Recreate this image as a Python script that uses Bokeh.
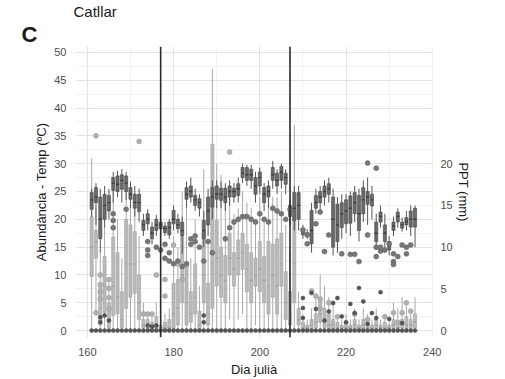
from bokeh.plotting import figure
from bokeh.models import Range1d, LinearAxis, FixedTicker, Span, Title, ColumnDataSource
from bokeh.embed import file_html
from bokeh.resources import INLINE

# ---------------- data ----------------
days = [161, 162, 163, 164, 165, 166, 167, 168, 169, 170, 171, 172, 173, 174, 175, 176, 177, 178, 179, 180,
        181, 182, 183, 184, 185, 186, 187, 188, 189, 190, 191, 192, 193, 194, 195, 196, 197, 198, 199, 200,
        201, 202, 203, 204, 205, 206, 207, 208, 209, 210, 211, 212, 213, 214, 215, 216, 217, 218, 219, 220,
        221, 222, 223, 224, 225, 226, 227, 228, 229, 230, 231, 232, 233, 234, 235, 236]

# Temperature (ºC) boxplot stats per day
temp_q1 = [21.8, 23.0, 16.5, 20.0, 21.5, 25.2, 25.0, 25.4, 25.0, 23.6, 22.0, 21.4, 18.0, 19.2, 16.5, 18.0, 18.3, 17.6, 17.2, 19.2,
           18.3, 17.0, 23.6, 24.0, 22.5, 22.0, 16.5, 19.0, 22.2, 23.6, 23.4, 23.0, 24.0, 24.0, 24.3, 27.5, 27.0, 27.0, 24.5, 26.0,
           23.0, 24.0, 27.0, 26.0, 27.0, 26.3, 20.5, 19.8, 20.0, 17.2, 17.0, 15.6, 22.0, 23.0, 24.0, 24.5, 15.0, 16.0, 18.5, 19.2,
           19.3, 21.0, 18.0, 21.0, 22.7, 22.4, 16.0, 19.5, 16.0, 14.5, 18.0, 19.5, 18.4, 19.0, 18.6, 18.6]
temp_med = [23.5, 24.0, 20.0, 22.5, 23.0, 26.5, 26.3, 27.0, 26.5, 24.5, 23.0, 23.0, 19.0, 20.0, 17.5, 19.0, 19.0, 18.3, 18.5, 20.0,
            19.0, 18.0, 24.5, 25.0, 23.5, 23.0, 18.0, 21.5, 24.0, 24.5, 24.5, 24.0, 25.0, 25.0, 25.5, 28.3, 28.0, 28.0, 26.0, 27.5,
            24.5, 25.0, 28.0, 27.0, 28.5, 27.5, 21.5, 22.0, 22.5, 17.8, 17.3, 18.0, 23.0, 24.0, 25.0, 25.5, 20.0, 19.0, 21.0, 21.5,
            22.0, 23.0, 21.0, 23.5, 24.0, 23.5, 17.5, 20.5, 17.5, 15.3, 18.8, 20.5, 19.0, 19.6, 20.0, 20.0]
temp_q3 = [24.8, 25.7, 24.0, 24.5, 24.3, 27.5, 27.8, 28.0, 27.8, 25.7, 24.5, 24.5, 19.8, 21.0, 18.6, 20.0, 19.5, 18.8, 19.5, 21.6,
           20.0, 19.5, 25.7, 26.0, 24.3, 23.7, 19.8, 24.0, 25.7, 26.0, 25.6, 25.6, 26.0, 25.6, 26.4, 29.3, 29.3, 29.0, 27.5, 28.5,
           25.7, 26.0, 29.3, 28.3, 29.5, 28.3, 22.5, 24.8, 24.8, 18.3, 17.6, 21.6, 24.3, 25.0, 26.0, 26.4, 24.0, 22.7, 23.0, 23.5,
           24.2, 24.8, 24.3, 25.7, 25.0, 24.5, 19.5, 21.3, 19.0, 16.0, 19.5, 21.3, 19.5, 20.3, 21.5, 22.0]
temp_lo = [20.4, 19.0, 14.0, 18.5, 20.0, 23.0, 24.0, 23.0, 23.5, 22.0, 20.5, 19.5, 17.0, 18.0, 15.5, 17.0, 17.5, 17.0, 16.5, 18.0,
           17.5, 13.8, 22.0, 23.0, 21.5, 20.5, 15.0, 17.0, 20.0, 22.0, 22.0, 21.5, 22.5, 23.0, 23.0, 26.5, 26.0, 25.5, 23.0, 24.5,
           21.5, 22.0, 25.5, 24.5, 25.5, 24.5, 19.0, 18.0, 18.0, 16.5, 16.5, 14.0, 21.0, 21.5, 22.5, 23.0, 13.5, 14.0, 16.5, 17.5,
           17.0, 19.5, 16.0, 19.5, 19.0, 20.0, 14.5, 18.5, 14.0, 13.5, 17.0, 18.5, 17.8, 18.0, 17.0, 15.0]
temp_hi = [25.5, 26.5, 25.5, 26.0, 25.5, 28.5, 28.7, 29.0, 28.5, 26.8, 26.0, 25.5, 21.0, 21.8, 19.5, 20.8, 20.2, 19.5, 20.0, 22.5,
           21.0, 20.5, 26.8, 27.5, 25.5, 24.5, 21.5, 25.5, 27.0, 27.0, 26.8, 26.5, 27.0, 26.5, 27.5, 30.0, 29.8, 29.8, 28.5, 29.3,
           26.5, 27.0, 30.5, 29.0, 30.0, 29.0, 23.5, 26.0, 26.0, 19.0, 18.2, 23.0, 25.5, 26.0, 27.0, 27.5, 25.5, 24.0, 24.5, 24.5,
           25.0, 26.0, 25.5, 27.0, 27.5, 26.0, 21.0, 22.5, 21.0, 17.0, 20.5, 22.0, 20.3, 21.5, 22.5, 22.5]

# Abundance boxplot stats per day
ab_q1 = [9.7, 13.0, 1.0, 3.2, 0.5, 2.7, 3.0, 0.5, 4.0, 6.0, 6.7, 2.0, 0.5, 0.0, 0.0, 0.3, 0.0, 0.0, 0.0, 0.0,
         1.0, 5.0, 1.0, 1.5, 3.0, 0.0, 5.0, 1.0, 4.0, 8.0, 6.0, 5.0, 10.0, 8.0, 10.0, 11.0, 7.0, 5.0, 8.0, 7.0,
         5.0, 3.0, 6.0, 3.0, 8.0, 2.0, 1.0, 5.0, 1.0, 0.0, 0.0, 0.0, 0.5, 1.5, 0.5, 0.3, 0.0, 0.0, 0.0, 0.0,
         0.0, 0.0, 0.0, 0.0, 0.0, 0.0, 0.0, 0.0, 0.0, 0.0, 0.3, 0.0, 0.5, 0.3, 0.0, 0.5]
ab_med = [15.0, 16.0, 4.0, 8.0, 2.0, 8.0, 6.0, 2.0, 12.0, 12.0, 12.0, 5.0, 1.0, 1.0, 0.5, 1.0, 0.5, 0.5, 0.5, 3.0,
          4.0, 10.0, 5.0, 3.0, 6.0, 1.0, 10.0, 3.0, 12.0, 13.0, 10.0, 9.0, 13.0, 11.0, 13.0, 14.0, 11.0, 9.0, 10.0, 11.0,
          9.0, 8.0, 10.0, 8.0, 12.0, 5.0, 3.0, 12.0, 2.0, 0.5, 0.5, 1.0, 1.5, 3.0, 2.0, 1.0, 1.0, 0.5, 0.5, 0.5,
          0.5, 1.0, 0.5, 1.0, 0.5, 0.5, 1.0, 0.5, 0.5, 0.5, 1.0, 0.5, 1.0, 1.0, 1.0, 1.5]
ab_q3 = [20.4, 18.0, 8.0, 13.3, 5.0, 16.8, 14.0, 7.0, 20.0, 19.0, 17.8, 10.0, 2.0, 2.0, 1.5, 2.5, 1.0, 1.5, 2.0, 8.5,
         9.2, 16.8, 12.0, 7.0, 12.0, 3.5, 17.5, 8.5, 33.5, 19.8, 15.0, 13.5, 17.5, 14.0, 16.3, 17.5, 15.5, 14.0, 13.0, 16.0,
         13.3, 16.0, 15.5, 16.5, 17.5, 10.6, 7.0, 21.6, 4.0, 1.5, 1.0, 2.0, 3.0, 6.0, 4.0, 3.0, 2.0, 1.5, 1.0, 1.5,
         1.0, 2.0, 1.0, 2.0, 1.5, 1.0, 2.0, 1.0, 1.5, 1.0, 2.0, 1.5, 2.0, 2.5, 2.0, 3.0]
ab_lo = [0, 3, 0, 0, 0, 0, 0, 0, 0, 0, 0, 0, 0, 0, 0, 0, 0, 0, 0, 0,
         0, 0, 0, 0, 0, 0, 0, 0, 0, 0, 0, 0, 2, 0, 2, 3, 0, 0, 1, 0,
         0, 0, 0, 0, 0, 0, 0, 0, 0, 0, 0, 0, 0, 0, 0, 0, 0, 0, 0, 0,
         0, 0, 0, 0, 0, 0, 0, 0, 0, 0, 0, 0, 0, 0, 0, 0]
ab_hi = [31.0, 22.0, 14.0, 19.0, 9.0, 25.0, 20.0, 13.0, 27.0, 25.0, 24.0, 17.0, 5.0, 3.0, 3.0, 5.0, 2.0, 3.0, 4.0, 17.0,
         15.0, 25.0, 22.0, 13.0, 20.0, 8.0, 29.0, 16.0, 47.0, 30.0, 28.0, 25.0, 24.0, 21.0, 22.0, 25.0, 23.0, 22.0, 20.0, 24.0,
         20.0, 24.0, 24.0, 24.0, 25.0, 19.0, 14.0, 37.0, 7.0, 3.0, 2.0, 4.0, 6.0, 10.0, 8.0, 6.0, 5.0, 3.0, 2.0, 3.0,
         2.0, 4.0, 2.0, 4.0, 3.0, 2.0, 4.0, 2.0, 3.0, 2.0, 5.0, 4.0, 6.0, 5.0, 4.0, 6.0]

# Abundance outliers
ab_out_day = [162, 172, 193, 163, 163, 163, 163, 162, 165, 165, 165, 165, 173, 174, 175, 176, 178, 178,
              180, 182, 181, 212, 213, 214, 214, 216, 231, 233, 234, 218, 222, 225, 229, 232, 235]
ab_out_val = [35.0, 34.0, 32.1, 10.0, 8.3, 7.0, 5.7, 3.2, 9.2, 7.6, 5.9, 3.9, 3.0, 3.0, 3.0, 10.0, 9.2, 6.2,
              15.4, 9.2, 12.0, 7.1, 6.2, 5.7, 4.0, 5.0, 3.2, 3.2, 5.0, 2.5, 3.0, 2.0, 2.5, 1.5, 3.5]

# Temperature outliers
t_out_day = [166, 166, 166, 169, 174, 174, 174, 176, 177, 178, 178, 179, 179, 180, 181, 182, 183, 184, 184, 185,
             185, 186, 187, 188, 189, 192, 193, 194, 195, 196, 197, 198, 199, 200, 201, 202, 203, 204, 205, 206,
             207, 210, 211, 211, 213, 214, 215, 216, 219, 221, 222, 223, 225, 227, 227, 228, 228, 229, 230, 231,
             231, 231, 232, 233, 234, 234, 235, 225, 227]
t_out_val = [21.0, 19.8, 18.5, 21.8, 16.0, 14.5, 13.5, 15.0, 14.5, 13.0, 15.5, 12.5, 14.0, 12.0, 12.5, 11.5, 12.0, 15.5, 16.5, 16.0,
             17.0, 15.0, 12.5, 16.0, 14.0, 16.5, 18.5, 19.5, 20.0, 20.5, 20.5, 20.0, 19.5, 21.0, 20.0, 19.5, 22.0, 21.5, 21.0, 20.0,
             21.8, 18.1, 17.2, 15.6, 19.2, 21.3, 14.2, 17.2, 13.8, 13.7, 13.7, 12.4, 17.2, 13.3, 15.0, 14.3, 15.0, 14.5, 15.6, 13.8,
             12.4, 11.9, 13.3, 15.4, 15.0, 13.8, 15.4, 30.1, 29.2]

# Precipitation (mm), secondary axis
ppt_day = days + [163, 163, 164, 165, 174, 175, 176, 187, 187, 210, 210, 210, 212, 213, 216, 217, 218, 219,
                  221, 222, 223, 224, 226, 227, 228, 215, 220, 225, 230, 233]
ppt_mm = [0.0] * 76 + [1.0, 1.6, 1.8, 1.2, 0.6, 0.5, 0.6, 1.8, 1.0, 3.9, 2.7, 1.5, 4.5, 2.6, 2.3, 3.3, 3.9, 1.7,
                       3.2, 2.1, 5.1, 3.5, 2.1, 1.5, 4.6, 1.2, 1.0, 0.8, 1.4, 0.9]

# ---------------- figure ----------------
FONT = "Liberation Sans"
p = figure(width=505, height=379, output_backend="svg", toolbar_location=None,
           x_range=Range1d(157.25, 240.05), y_range=Range1d(-1.24, 51.06),
           min_border_left=75, min_border_right=73, min_border_top=0, min_border_bottom=37,
           background_fill_color="white", border_fill_color="white")
p.outline_line_color = None
p.extra_y_ranges = {"ppt": Range1d(-1.24 / 1.5, 51.06 / 1.5)}

# titles: "C" (nearest the plot) then "Catllar" above it
p.title.text = ""
p.title.visible = False
t_c = Title(text="C", align="left", offset=-54, text_font=FONT, text_font_size="22px",
            text_font_style="bold", text_color="#1a1a1a", standoff=0)
t_main = Title(text="Catllar", align="left", offset=-2, text_font=FONT, text_font_size="15px",
               text_font_style="normal", text_color="#1a1a1a", standoff=0)
p.add_layout(t_c, "above")
p.add_layout(t_main, "above")

# grids
p.xaxis.ticker = FixedTicker(ticks=[160, 180, 200, 220, 240], minor_ticks=[170, 190, 210, 230])
p.yaxis.ticker = FixedTicker(ticks=[0, 5, 10, 15, 20, 25, 30, 35, 40, 45, 50],
                             minor_ticks=[2.5, 7.5, 12.5, 17.5, 22.5, 27.5, 32.5, 37.5, 42.5, 47.5])
for g in (p.xgrid, p.ygrid):
    g.grid_line_color = "#e3e3e3"
    g.grid_line_width = 1.1
    g.minor_grid_line_color = "#efefef"
    g.minor_grid_line_width = 0.8

for ax in (p.xaxis, p.yaxis):
    ax.axis_line_color = None
    ax.major_tick_line_color = None
    ax.minor_tick_line_color = None
    ax.major_label_text_font = FONT
    ax.major_label_text_font_size = "11px"
    ax.major_label_text_color = "#4d4d4d"
    ax.axis_label_text_font = FONT
    ax.axis_label_text_font_size = "13px"
    ax.axis_label_text_font_style = "normal"
    ax.axis_label_text_color = "#1a1a1a"
    ax.major_label_standoff = 4

p.xaxis.axis_label = "Dia julià"
p.xaxis.axis_label_standoff = 3
p.yaxis.axis_label = "Abundància - Temp (ºC)"
p.yaxis.axis_label_standoff = 2
p.yaxis.major_label_standoff = 3

ax2 = LinearAxis(y_range_name="ppt", ticker=FixedTicker(ticks=[0, 5, 10, 15, 20]),
                 axis_label="PPT (mm)")
ax2.axis_line_color = None
ax2.major_tick_line_color = None
ax2.minor_tick_line_color = None
ax2.major_label_text_font = FONT
ax2.major_label_text_font_size = "11px"
ax2.major_label_text_color = "#4d4d4d"
ax2.axis_label_text_font = FONT
ax2.axis_label_text_font_size = "13px"
ax2.axis_label_text_font_style = "normal"
ax2.axis_label_text_color = "#1a1a1a"
ax2.major_label_standoff = 2
ax2.axis_label_standoff = 0
p.add_layout(ax2, "right")

# sources
ab = ColumnDataSource(dict(x=days, q1=ab_q1, med=ab_med, q3=ab_q3, lo=ab_lo, hi=ab_hi))
tp = ColumnDataSource(dict(x=days, q1=temp_q1, med=temp_med, q3=temp_q3, lo=temp_lo, hi=temp_hi))

W = 0.72
# abundance boxplots
p.segment(x0="x", y0="lo", x1="x", y1="hi", source=ab, line_color="#a9a9a9", line_width=1)
p.vbar(x="x", width=W, bottom="q1", top="q3", source=ab, fill_color="#b9b9b9",
       line_color="#a3a3a3", line_width=0.6)
p.rect(x="x", y="med", width=W, height=0.25, source=ab, fill_color="#a3a3a3", line_color=None)
p.scatter(ab_out_day, ab_out_val, size=5, fill_color="#b0b0b0", line_color="#9c9c9c", line_width=0.5)

# temperature boxplots
p.segment(x0="x", y0="lo", x1="x", y1="hi", source=tp, line_color="#555555", line_width=1)
p.vbar(x="x", width=W, bottom="q1", top="q3", source=tp, fill_color="#6a6a6a",
       line_color="#454545", line_width=0.6)
p.rect(x="x", y="med", width=W, height=0.25, source=tp, fill_color="#3d3d3d", line_color=None)
p.scatter(t_out_day, t_out_val, size=5, fill_color="#777777", line_color="#606060", line_width=0.5)

# precipitation points
p.scatter(ppt_day, ppt_mm, y_range_name="ppt", size=4, fill_color="#555555",
          line_color="#444444", line_width=0.5)

# period lines
for loc in (177, 207):
    p.add_layout(Span(location=loc, dimension="height", line_color="#2a2a2a", line_width=1.6))

open("out.html", "w").write(file_html(p, INLINE))
